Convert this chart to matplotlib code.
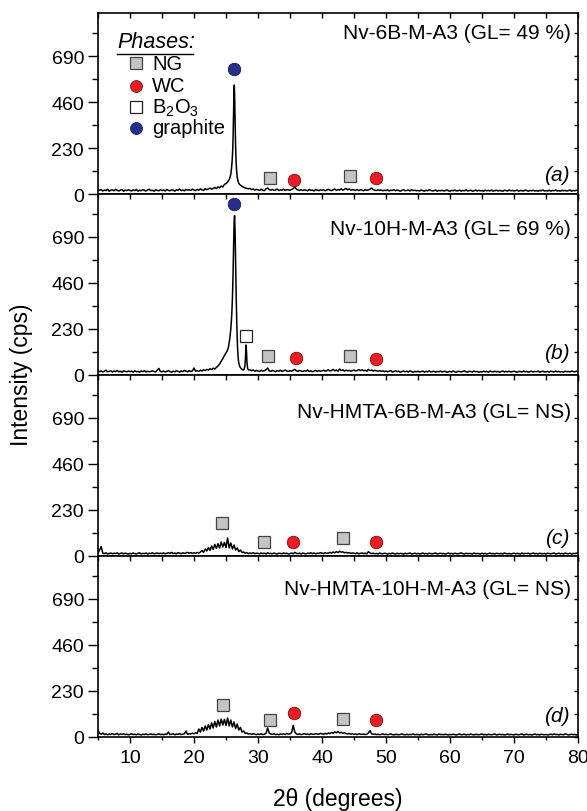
import numpy as np
import matplotlib
matplotlib.use("Agg")
import matplotlib.pyplot as plt
from matplotlib.ticker import MultipleLocator

plt.rcParams['font.family'] = ['Liberation Sans', 'DejaVu Sans']
plt.rcParams['mathtext.fontset'] = 'custom'
plt.rcParams['mathtext.rm'] = 'Liberation Sans'
plt.rcParams['mathtext.it'] = 'Liberation Sans:italic'

# ---------------- data ----------------
# 2-theta scan grid (degrees), 0.25 deg step from 5 to 80
two_theta = np.round(np.arange(5.0, 80.001, 0.25), 2)

int_a = [
    25,18,22,15,20,17,24,14,19,21,16,23,18,15,20,22,14,19,17,21,
    18,15,21,17,23,14,19,16,22,18,15,20,24,17,19,14,21,18,16,22,
    17,20,15,23,18,16,21,19,14,22,18,25,17,20,16,23,19,21,18,24,
    20,17,23,19,26,21,18,27,22,25,30,24,28,33,27,36,31,40,35,48,
    52,60,72,95,150,330,480,200,52,44,38,34,30,28,26,28,22,25,20,23,
    21,18,24,19,17,26,30,22,19,23,18,20,25,17,21,19,24,18,22,20,
    19,23,27,35,24,20,18,22,17,21,19,16,23,18,20,15,22,19,17,21,
    18,22,16,20,24,19,17,21,25,18,22,20,26,19,23,28,21,25,19,22,
    20,18,23,17,21,19,16,22,18,20,24,30,22,19,17,21,18,20,16,19,
    17,21,15,19,18,22,16,20,17,14,19,21,16,18,20,15,22,17,19,16,
    18,15,20,17,14,19,16,21,18,15,17,20,14,18,16,19,15,17,20,16,
    14,18,16,20,15,17,19,14,18,16,21,15,17,19,14,16,20,15,18,16,
    17,14,19,16,18,15,20,14,17,19,15,18,16,14,19,17,15,20,16,18,
    15,17,19,14,18,16,15,20,17,14,18,16,19,15,17,14,18,16,20,15,
    17,15,19,14,18,16,20,15,17,14,19,16,18,15,17,20,14,18,16,19,
    17]
peak_a_x = [25.65,25.75,25.85,25.95,26.05,26.12,26.18,26.24,26.3,26.36,26.42,26.5,26.58,26.66,26.75,26.85,26.95]
peak_a_y = [85,100,125,160,220,300,400,500,545,470,360,240,160,115,85,68,58]

int_b = [
    22,17,20,15,19,24,16,18,21,15,20,17,23,16,19,14,21,18,16,20,
    17,19,15,21,16,18,14,20,17,22,15,19,16,18,21,17,15,24,33,18,
    16,20,15,18,22,17,14,19,16,21,18,15,20,17,23,19,16,22,18,20,
    35,19,22,18,24,20,26,22,28,25,31,27,34,30,38,45,55,68,82,97,
    110,125,150,230,380,760,560,140,60,40,30,25,40,60,30,26,22,25,19,23,
    20,18,24,19,22,26,35,21,18,23,20,17,22,19,24,18,21,25,20,18,
    22,19,24,28,21,18,23,20,17,22,19,25,18,21,16,20,23,18,22,19,
    21,24,19,22,26,20,23,28,21,25,19,30,22,26,20,24,21,23,19,22,
    25,20,23,27,22,26,21,24,19,28,22,25,20,23,21,19,22,18,21,17,
    20,16,19,22,15,18,21,17,19,14,18,20,16,19,15,21,17,14,18,16,
    19,15,17,20,14,18,16,21,15,17,19,14,18,16,20,15,17,19,14,16,
    18,15,20,16,14,19,17,15,18,21,16,14,19,17,15,20,16,18,14,17,
    15,19,16,18,14,20,17,15,19,16,18,14,17,20,15,18,16,19,15,17,
    19,16,14,18,17,15,20,16,18,14,17,19,15,18,16,20,14,17,19,15,
    16,18,14,19,17,15,20,16,18,15,17,14,19,16,18,15,20,17,16,19,
    17]
peak_b_x = [25.45,25.6,25.75,25.9,26.0,26.1,26.18,26.26,26.34,26.42,26.5,26.6,26.7,26.8,26.9,27.0,
            27.15,27.3,27.5,27.7,27.85,27.95,28.05,28.12,28.2,28.28,28.4,28.55]
peak_b_y = [150,185,230,300,380,500,640,760,797,720,560,380,240,140,85,60,
            42,35,28,25,30,45,90,150,120,60,30,25]

int_c = [
    15,30,47,14,12,16,10,13,15,11,14,12,16,10,13,15,11,14,12,10,
    13,11,15,12,10,14,16,11,13,12,15,10,14,12,16,11,13,15,12,14,
    12,15,11,14,16,13,18,12,15,11,17,14,12,16,13,15,18,14,17,13,
    16,13,18,14,20,28,18,35,25,42,28,50,33,58,38,62,40,70,45,68,
    42,90,40,65,35,55,30,40,22,30,18,20,14,17,12,15,13,16,12,14,
    13,11,15,12,14,10,16,12,13,11,15,12,10,14,13,11,15,12,14,10,
    12,15,11,18,13,12,14,10,15,12,11,14,13,16,12,15,11,14,13,16,
    14,12,17,13,15,18,14,20,16,22,17,24,19,21,16,18,15,17,13,15,
    14,12,16,11,13,15,12,14,11,22,15,12,14,11,13,10,15,12,11,14,
    12,10,13,11,15,12,10,14,11,13,12,10,14,11,13,15,10,12,14,11,
    13,10,12,15,11,13,10,14,12,11,13,15,10,12,14,11,13,10,12,15,
    11,13,10,14,12,11,13,16,12,10,14,11,13,12,10,15,11,13,12,10,
    14,11,13,10,12,15,11,13,10,14,12,11,13,10,15,12,11,13,10,12,
    14,11,13,12,10,15,11,13,12,14,10,12,15,11,13,10,14,12,11,13,
    10,14,12,11,13,15,10,12,14,11,13,10,15,12,11,14,10,13,12,14,
    16]

int_d = [
    35,18,14,20,12,16,11,15,13,17,12,14,18,11,15,13,16,12,14,11,
    13,16,12,14,11,15,13,10,14,12,16,11,13,15,12,14,11,13,16,12,
    14,11,15,13,25,12,14,16,11,15,13,17,12,14,16,30,13,17,15,19,
    16,22,18,40,25,48,30,55,35,62,40,70,45,78,50,85,55,90,60,88,
    58,95,55,85,50,75,42,65,35,48,25,30,18,20,15,17,13,16,14,12,
    15,13,16,12,14,18,45,20,15,13,16,12,14,11,15,13,16,12,18,14,
    16,22,58,25,15,13,16,12,14,17,13,15,12,16,14,13,17,15,14,18,
    16,14,18,15,20,17,22,19,25,21,28,20,24,18,21,17,15,18,14,16,
    13,15,12,16,14,13,15,12,14,20,32,16,13,15,12,14,11,13,15,12,
    14,11,13,15,12,10,14,12,11,13,15,12,10,14,11,13,12,15,11,13,
    12,10,14,11,13,15,12,10,13,11,14,12,10,15,12,13,11,14,12,10,
    13,11,14,12,10,13,15,11,12,14,10,13,11,15,12,10,14,12,11,13,
    15,11,13,10,14,12,11,13,15,10,12,14,11,13,10,12,15,11,13,12,
    10,14,12,11,13,15,10,12,14,11,13,10,12,15,11,13,10,14,12,11,
    13,10,12,14,11,15,12,13,10,14,12,11,16,13,10,12,14,11,13,10,
    12]

sample_names = ["Nv-6B-M-A3 (GL= 49 %)", "Nv-10H-M-A3 (GL= 69 %)",
                "Nv-HMTA-6B-M-A3 (GL= NS)", "Nv-HMTA-10H-M-A3 (GL= NS)"]
panel_tags = ["(a)", "(b)", "(c)", "(d)"]

# phase marker positions (2theta, intensity) per panel
ng_x = [[31.8, 44.4], [31.6, 44.35], [24.3, 30.9, 43.3], [24.5, 31.8, 43.3]]
ng_y = [[80, 90], [93, 93], [165, 70, 92], [160, 85, 92]]
wc_x = [[35.7, 48.5], [36.0, 48.5], [35.5, 48.4], [35.7, 48.5]]
wc_y = [[70, 80], [87, 78], [70, 70], [118, 85]]
b2o3_x = [[], [28.2], [], []]
b2o3_y = [[], [197], [], []]
graphite_x = [[26.3], [26.3], [], []]
graphite_y = [[625], [855], [], []]

phase_labels = ["NG", "WC", "B$_2$O$_3$", "graphite"]

# ---------------- styling ----------------
ng_style = dict(marker='s', ms=8.5, mfc='#c4c4c4', mec='#444444', mew=0.9, ls='none')
wc_style = dict(marker='o', ms=9, mfc='#ec1c24', mec='#7a1010', mew=0.6, ls='none')
b2o3_style = dict(marker='s', ms=8.5, mfc='white', mec='#222222', mew=0.9, ls='none')
gr_style = dict(marker='o', ms=9, mfc='#262f8c', mec='#151a50', mew=0.6, ls='none')
styles = [ng_style, wc_style, b2o3_style, gr_style]


def merge(grid_x, grid_y, px=None, py=None):
    gx = np.asarray(grid_x, float)
    gy = np.asarray(grid_y, float)
    if px is None:
        return gx, gy
    lo, hi = min(px), max(px)
    keep = (gx < lo) | (gx > hi)
    x = np.concatenate([gx[keep], px])
    y = np.concatenate([gy[keep], py])
    o = np.argsort(x)
    return x[o], y[o]


series = [merge(two_theta, int_a, peak_a_x, peak_a_y),
          merge(two_theta, int_b, peak_b_x, peak_b_y),
          merge(two_theta, int_c),
          merge(two_theta, int_d)]

fig = plt.figure(figsize=(5.87, 8.12), dpi=100)
L, R = 98 / 587, 578 / 587
top_px, bot_px = 14, 738
ph = (bot_px - top_px) / 4
name_y = [0.895, 0.807, 0.796, 0.818]
tag_y = [0.105, 0.127, 0.10, 0.118]

axes = []
for i in range(4):
    y0 = 1 - (top_px + (i + 1) * ph) / 812
    ax = fig.add_axes([L, y0, R - L, ph / 812])
    axes.append(ax)
    x, y = series[i]
    ax.plot(x, y, color='black', lw=1.1, zorder=2)
    for xs, ys, st in zip([ng_x[i], wc_x[i], b2o3_x[i], graphite_x[i]],
                          [ng_y[i], wc_y[i], b2o3_y[i], graphite_y[i]], styles):
        if xs:
            ax.plot(xs, ys, zorder=3, clip_on=False, **st)
    ax.set_xlim(5, 80)
    ax.set_ylim(0, 905)
    ax.set_yticks([0, 230, 460, 690])
    ax.yaxis.set_minor_locator(MultipleLocator(115))
    ax.xaxis.set_major_locator(MultipleLocator(10))
    ax.xaxis.set_minor_locator(MultipleLocator(5))
    ax.tick_params(axis='both', which='major', direction='out', width=1.0,
                   labelsize=14, colors='black')
    ax.tick_params(axis='y', which='major', length=7, pad=3)
    ax.tick_params(axis='y', which='minor', length=4.5, width=1.0)
    ax.tick_params(axis='x', which='major', length=4.5, pad=4)
    ax.tick_params(axis='x', which='minor', length=2.5, width=1.0)
    ax.tick_params(axis='x', which='both', top=True)
    ax.tick_params(axis='y', which='both', right=True)
    for sp in ax.spines.values():
        sp.set_linewidth(1.2)
    if i < 3:
        ax.tick_params(axis='x', labelbottom=False)
    ax.text(0.985, name_y[i], sample_names[i], transform=ax.transAxes,
            ha='right', va='center', fontsize=15)
    ax.text(0.982, tag_y[i], panel_tags[i], transform=ax.transAxes,
            ha='right', va='center', fontsize=15, style='italic')

# make top/right ticks point inward
for ax in axes:
    for t in ax.xaxis.get_major_ticks() + ax.xaxis.get_minor_ticks():
        t.tick2line.set_marker(matplotlib.lines.TICKDOWN)
        t.tick2line.set_markersize(3.5)
    for t in ax.yaxis.get_major_ticks() + ax.yaxis.get_minor_ticks():
        t.tick2line.set_marker(matplotlib.lines.TICKLEFT)
        t.tick2line.set_markersize(3)

# phase legend inside panel (a)
axa = axes[0]
axa.text(0.040, 0.845, "Phases:", transform=axa.transAxes, ha='left', va='center',
         fontsize=15.5, style='italic')
axa.plot([0.040, 0.198], [0.775, 0.775], transform=axa.transAxes, color='black',
         lw=1.0, clip_on=False)
rows_y = [0.722, 0.597, 0.478, 0.367]
for lab, st, yy in zip(phase_labels, styles, rows_y):
    s = dict(st)
    s['ms'] = s['ms'] - 0.5
    axa.plot([0.079], [yy], transform=axa.transAxes, **s)
    axa.text(0.113, yy, lab, transform=axa.transAxes, ha='left', va='center', fontsize=14.5)

axes[3].set_xlabel("2θ (degrees)", fontsize=16.5, labelpad=15)
fig.text(0.036, 0.538, "Intensity (cps)", rotation=90, ha='center', va='center', fontsize=16.5)

fig.savefig("out.png", dpi=100)
